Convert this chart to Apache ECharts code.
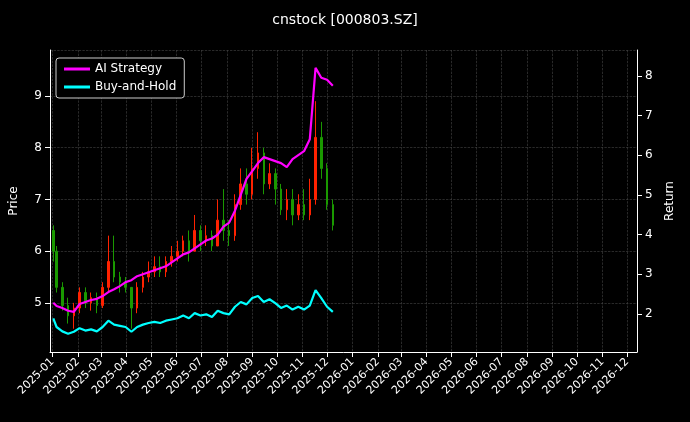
<!DOCTYPE html>
<html>
<head>
<meta charset="utf-8" />
<title>cnstock [000803.SZ]</title>
<script src="https://cdn.jsdelivr.net/npm/echarts@6/dist/echarts.min.js"></script>
<style>
  html, body { margin: 0; padding: 0; background: #000; }
  #main { width: 690px; height: 422px; }
</style>
</head>
<body>
<div id="main"></div>
<script type="text/javascript">
// weekly bars (Monday of each week)
var dates = ['2025-01-02','2025-01-06','2025-01-13','2025-01-20','2025-01-27','2025-02-03','2025-02-10','2025-02-17','2025-02-24',
  '2025-03-03','2025-03-10','2025-03-17','2025-03-24','2025-03-31','2025-04-07','2025-04-14','2025-04-21','2025-04-28',
  '2025-05-05','2025-05-12','2025-05-19','2025-05-26','2025-06-02','2025-06-09','2025-06-16','2025-06-23','2025-06-30',
  '2025-07-07','2025-07-14','2025-07-21','2025-07-28','2025-08-04','2025-08-11','2025-08-18','2025-08-25','2025-09-01',
  '2025-09-08','2025-09-15','2025-09-22','2025-09-29','2025-10-06','2025-10-13','2025-10-20','2025-10-27','2025-11-03',
  '2025-11-10','2025-11-17','2025-11-24','2025-12-01','2025-12-08'];
// [open, close, low, high]
var ohlc = [[6.4,6.0,5.8,6.5],[6.0,5.3,5.2,6.1],[5.3,4.95,4.85,5.4],[4.95,4.75,4.6,5.1],[4.75,4.9,4.5,5.0],
  [4.9,5.2,4.8,5.3],[5.2,5.0,4.9,5.3],[5.0,5.1,4.85,5.2],[5.1,4.95,4.8,5.2],[4.95,5.3,4.9,5.4],
  [5.3,5.8,5.2,6.3],[5.8,5.5,5.4,6.3],[5.5,5.4,5.2,5.6],[5.4,5.3,5.2,5.5],[5.3,4.9,4.5,5.3],
  [4.9,5.3,4.8,5.4],[5.3,5.5,5.2,5.6],[5.5,5.6,5.4,5.8],[5.6,5.7,5.5,5.9],[5.7,5.6,5.5,5.9],
  [5.6,5.8,5.5,5.9],[5.8,5.9,5.7,6.1],[5.9,6.0,5.8,6.2],[6.0,6.2,5.9,6.3],[6.2,6.0,5.8,6.4],
  [6.0,6.4,6.0,6.7],[6.4,6.2,6.0,6.5],[6.2,6.3,6.1,6.5],[6.3,6.1,6.0,6.4],[6.1,6.6,6.1,7.0],
  [6.6,6.4,6.2,7.2],[6.4,6.3,6.1,6.6],[6.3,6.9,6.2,7.1],[6.9,7.3,6.8,7.6],[7.3,7.1,6.9,7.6],
  [7.1,7.6,7.0,8.0],[7.6,7.9,7.4,8.3],[7.9,7.3,7.1,8.0],[7.3,7.5,7.2,7.7],[7.5,7.2,6.9,7.6],
  [7.2,6.8,6.7,7.3],[6.8,7.0,6.6,7.2],[7.0,6.7,6.5,7.2],[6.7,6.9,6.6,7.1],[6.9,6.7,6.6,7.2],
  [6.7,7.0,6.6,7.4],[7.0,8.2,6.9,8.9],[8.2,7.6,7.4,8.5],[7.6,6.9,6.8,7.7],[6.9,6.5,6.4,7.0]];
var aiReturn = [2.28,2.2,2.15,2.08,2.05,2.25,2.3,2.35,2.38,2.45,2.55,2.62,2.7,2.8,2.85,2.95,3.0,3.05,3.1,3.15,
  3.2,3.3,3.4,3.5,3.55,3.65,3.75,3.85,3.9,4.0,4.2,4.3,4.6,5.0,5.4,5.6,5.8,5.95,5.9,5.85,
  5.8,5.7,5.9,6.0,6.1,6.4,8.2,7.95,7.9,7.75];
var bhReturn = [1.89,1.67,1.56,1.5,1.55,1.64,1.58,1.61,1.56,1.67,1.83,1.73,1.7,1.67,1.55,1.67,1.73,1.77,1.8,1.77,
  1.83,1.86,1.89,1.96,1.89,2.02,1.96,1.99,1.92,2.08,2.02,1.99,2.18,2.3,2.24,2.4,2.45,2.3,2.37,2.27,
  2.15,2.21,2.11,2.18,2.11,2.21,2.6,2.4,2.18,2.05];

var candle = dates.map(function (d, i) { return [d].concat(ohlc[i]); });
var ai = dates.map(function (d, i) { return [d, aiReturn[i]]; });
var bh = dates.map(function (d, i) { return [d, bhReturn[i]]; });

var grid = { type: 'dashed', color: '#444', width: 0.6 };
var option = {
  backgroundColor: '#000',
  animation: false,
  textStyle: { fontFamily: 'DejaVu Sans' },
  title: { text: 'cnstock [000803.SZ]', left: 'center', top: 8, textStyle: { color: '#fff', fontSize: 14, fontWeight: 'normal' } },
  legend: {
    left: 56, top: 58, orient: 'vertical', itemWidth: 26, itemHeight: 3, itemGap: 6,
    padding: [5, 8], borderColor: '#ccc', borderWidth: 1, borderRadius: 3, backgroundColor: '#000',
    textStyle: { color: '#fff', fontSize: 12 },
    data: [{ name: 'AI Strategy', icon: 'rect' }, { name: 'Buy-and-Hold', icon: 'rect' }]
  },
  grid: { left: 48, right: 53, top: 50, bottom: 70 },
  xAxis: {
    type: 'time', min: '2024-12-29', max: '2026-12-13', splitNumber: 24,
    axisLine: { lineStyle: { color: '#fff' } }, axisTick: { lineStyle: { color: '#fff' } },
    axisLabel: { color: '#fff', rotate: 45, fontSize: 11, formatter: '{yyyy}-{MM}', hideOverlap: false },
    splitLine: { show: true, lineStyle: grid }
  },
  yAxis: [{
    type: 'value', name: 'Price', nameLocation: 'middle', nameGap: 30, nameTextStyle: { color: '#fff', fontSize: 12 },
    min: 4.05, max: 9.89, splitNumber: 6,
    axisLine: { show: true, lineStyle: { color: '#fff' } }, axisTick: { show: true, lineStyle: { color: '#fff' } },
    axisLabel: { color: '#fff', fontSize: 12, showMinLabel: false, showMaxLabel: false },
    splitLine: { show: true, lineStyle: grid }
  }, {
    type: 'value', name: 'Return', nameLocation: 'middle', nameGap: 26, nameTextStyle: { color: '#fff', fontSize: 12 },
    min: 1.04, max: 8.65, splitNumber: 7,
    axisLine: { show: true, lineStyle: { color: '#fff' } }, axisTick: { show: true, lineStyle: { color: '#fff' } },
    axisLabel: { color: '#fff', fontSize: 12, showMinLabel: false, showMaxLabel: false },
    splitLine: { show: false }
  }],
  series: [{
    name: 'Price', type: 'candlestick', data: candle, barMaxWidth: 2,
    itemStyle: { color: '#ff2200', color0: '#1a9900', borderColor: '#ff2200', borderColor0: '#1a9900' }
  }, {
    name: 'AI Strategy', type: 'line', yAxisIndex: 1, data: ai, showSymbol: false,
    lineStyle: { color: '#ff00ff', width: 2.2 }, itemStyle: { color: '#ff00ff' }
  }, {
    name: 'Buy-and-Hold', type: 'line', yAxisIndex: 1, data: bh, showSymbol: false,
    lineStyle: { color: '#00ffff', width: 2.2 }, itemStyle: { color: '#00ffff' }
  }]
};
var myChart = echarts.init(document.getElementById('main'));
myChart.setOption(option);
</script>
</body>
</html>
